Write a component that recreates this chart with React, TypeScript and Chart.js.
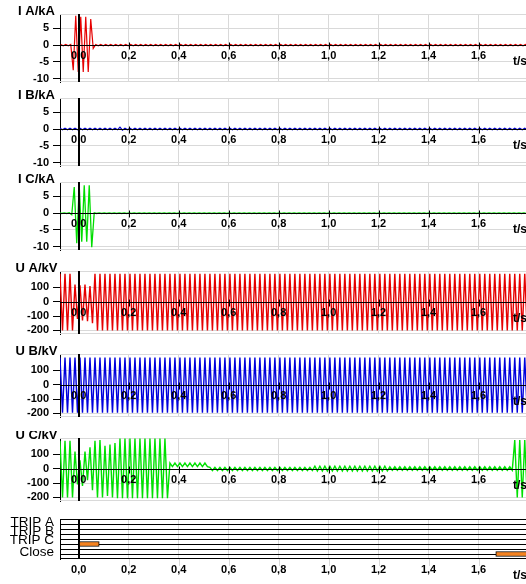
import React, { useEffect, useRef } from 'react';
import { Chart, registerables } from 'chart.js';

Chart.register(...registerables);

// One point per half-cycle peak of the 50 Hz recordings
const HALF_CYCLE = 0.01;

// Peak runs: [positive peak, negative peak, number of cycles]
type Run = [number, number, number];

const iaStart = -0.072;
const iaPeaks: Run[] = [
  [0.2, -0.2, 2],
  [0.2, -7.5, 1],
  [8.8, -8, 1],
  [8.5, -8, 1],
  [8.5, -8, 1],
  [7.8, -1, 1],
  [0.2, -0.2, 87],
];

const ibStart = -0.075;
const ibPeaks: Run[] = [
  [0.3, -0.2, 12],
  [0.6, -0.3, 1],
  [0.3, -0.2, 81],
];

const icStart = -0.078;
const icPeaks: Run[] = [
  [0.1, -0.1, 2],
  [0.1, -0.5, 1],
  [7.8, -9, 1],
  [8, -8.5, 1],
  [8.3, -8.5, 1],
  [8.3, -10.2, 1],
  [0.1, -0.1, 87],
];

const uaStart = -0.075;
const uaPeaks: Run[] = [
  [195, -200, 3],
  [120, -120, 1],
  [115, -130, 1],
  [120, -135, 1],
  [110, -150, 1],
  [195, -200, 87],
];

const ubStart = -0.075;
const ubPeaks: Run[] = [[190, -195, 94]];

const ucStart = -0.075;
const ucPeaks: Run[] = [
  [195, -200, 3],
  [120, -110, 1],
  [60, -120, 1],
  [120, -80, 1],
  [150, -150, 1],
  [195, -200, 1],
  [200, -200, 1],
  [160, -190, 1],
  [170, -200, 1],
  [180, -205, 1],
  [212, -205, 10],
  [40, 15, 8],
  [10, -12, 21],
  [18, -15, 15],
  [14, -10, 25],
  [200, -200, 3],
];

const T_MIN = -0.075;
const T_MAX = 1.79;
const timeTicks = [0, 0.2, 0.4, 0.6, 0.8, 1.0, 1.2, 1.4, 1.6];
const currentTicks = [-10, -5, 0, 5];
const voltageTicks = [-200, -100, 0, 100];
const currentRange = [-11, 9.3];
const voltageRange = [-225, 215];

const tripChannels = ['TRIP A', 'TRIP B', 'TRIP C', 'Close'];
const tripOn: (number | null)[] = [null, null, 0.0, 1.669];
const tripOff: (number | null)[] = [null, null, 0.082, 1.85];

const FONT = "'Liberation Sans', Arial, sans-serif";
const GRID = '#d9d9d9';
const W = 526;

function expandPeaks(start: number, runs: Run[]) {
  const pts: { x: number; y: number }[] = [];
  let i = 0;
  for (const [hi, lo, n] of runs) {
    for (let k = 0; k < n; k++) {
      pts.push({ x: start + i * HALF_CYCLE, y: hi });
      i++;
      pts.push({ x: start + i * HALF_CYCLE, y: lo });
      i++;
    }
  }
  return pts;
}

const fmtTime = (v: number) => v.toFixed(1).replace('.', ',');

interface WaveSpec {
  title: string;
  unitTicks: number[];
  range: number[];
  start: number;
  runs: Run[];
  color: string;
  width: number;
  areaTop: number;
  areaHeight: number;
  padTop: number;
}

const wavePanels: WaveSpec[] = [
  { title: 'I A/kA', unitTicks: currentTicks, range: currentRange, start: iaStart, runs: iaPeaks, color: '#e60000', width: 1.2, areaTop: 14, areaHeight: 68, padTop: 14 },
  { title: 'I B/kA', unitTicks: currentTicks, range: currentRange, start: ibStart, runs: ibPeaks, color: '#0000c8', width: 1.2, areaTop: 98, areaHeight: 68, padTop: 16 },
  { title: 'I C/kA', unitTicks: currentTicks, range: currentRange, start: icStart, runs: icPeaks, color: '#00dd00', width: 1.3, areaTop: 182, areaHeight: 68, padTop: 16 },
  { title: 'U A/kV', unitTicks: voltageTicks, range: voltageRange, start: uaStart, runs: uaPeaks, color: '#e60000', width: 1.4, areaTop: 271, areaHeight: 63, padTop: 16 },
  { title: 'U B/kV', unitTicks: voltageTicks, range: voltageRange, start: ubStart, runs: ubPeaks, color: '#0000dd', width: 1.4, areaTop: 354, areaHeight: 63, padTop: 16 },
  { title: 'U C/kV', unitTicks: voltageTicks, range: voltageRange, start: ucStart, runs: ucPeaks, color: '#00e000', width: 1.4, areaTop: 438, areaHeight: 63, padTop: 7 },
];

const noScalePadding = (s: any) => {
  s.paddingTop = 0;
  s.paddingBottom = 0;
  s.paddingLeft = 0;
  s.paddingRight = 0;
};

const baseTimeScale = () => ({
  type: 'linear' as const,
  min: T_MIN,
  max: T_MAX,
  afterBuildTicks: (s: any) => {
    s.ticks = timeTicks.map((v) => ({ value: v }));
  },
  afterFit: (s: any) => {
    s.height = 0;
    noScalePadding(s);
  },
  ticks: { display: false },
  border: { display: false },
  grid: {
    color: (c: any) => (c.tick && c.tick.value === 0 ? 'rgba(0,0,0,0)' : GRID),
    drawTicks: false,
    lineWidth: 1,
  },
});

function waveConfig(p: WaveSpec): any {
  const decor = {
    id: 'waveDecor',
    beforeDatasetsDraw(chart: any) {
      const { ctx, chartArea: a } = chart;
      ctx.save();
      ctx.strokeStyle = GRID;
      ctx.lineWidth = 1;
      ctx.beginPath();
      ctx.moveTo(a.left, Math.round(a.top) + 0.5);
      ctx.lineTo(a.right, Math.round(a.top) + 0.5);
      ctx.moveTo(a.left, Math.round(a.bottom) - 0.5);
      ctx.lineTo(a.right, Math.round(a.bottom) - 0.5);
      ctx.stroke();
      ctx.restore();
    },
    afterDatasetsDraw(chart: any) {
      const { ctx, chartArea: a, scales } = chart;
      const xs = scales.x;
      const ys = scales.y;
      const zy = Math.round(ys.getPixelForValue(0)) + 0.5;
      ctx.save();
      ctx.strokeStyle = '#000';
      ctx.lineWidth = 1;
      ctx.beginPath();
      ctx.moveTo(a.left, zy);
      ctx.lineTo(a.right, zy);
      for (const v of timeTicks) {
        const x = Math.round(xs.getPixelForValue(v)) + 0.5;
        ctx.moveTo(x, zy - 3);
        ctx.lineTo(x, zy + 4);
      }
      ctx.stroke();
      const x0 = Math.round(xs.getPixelForValue(0));
      ctx.lineWidth = 2;
      ctx.beginPath();
      ctx.moveTo(x0, a.top);
      ctx.lineTo(x0, a.bottom);
      ctx.stroke();

      ctx.fillStyle = '#000';
      ctx.font = `bold 11px ${FONT}`;
      ctx.textAlign = 'center';
      ctx.textBaseline = 'top';
      for (const v of timeTicks) {
        ctx.fillText(fmtTime(v), xs.getPixelForValue(v), zy + 5);
      }
      ctx.font = `bold 12px ${FONT}`;
      ctx.textAlign = 'left';
      ctx.textBaseline = 'alphabetic';
      ctx.fillText('t/s', 513, zy + 19);

      ctx.font = `bold 13px ${FONT}`;
      ctx.textAlign = 'center';
      ctx.fillText(p.title, 36.5, a.top + 0.5);
      ctx.restore();
    },
  };

  return {
    type: 'line',
    data: {
      datasets: [
        {
          data: expandPeaks(p.start, p.runs),
          borderColor: p.color,
          borderWidth: p.width,
          pointRadius: 0,
          tension: 0,
          fill: false,
        },
      ],
    },
    options: {
      animation: false,
      responsive: false,
      devicePixelRatio: 1,
      events: [],
      parsing: false,
      layout: { padding: { top: p.padTop, bottom: 4, left: 0, right: 0 } },
      plugins: { legend: { display: false }, tooltip: { enabled: false } },
      scales: {
        x: baseTimeScale(),
        y: {
          type: 'linear',
          min: p.range[0],
          max: p.range[1],
          afterBuildTicks: (s: any) => {
            s.ticks = p.unitTicks.map((v) => ({ value: v }));
          },
          afterFit: (s: any) => {
            s.width = 60;
            noScalePadding(s);
          },
          ticks: { color: '#000', font: { family: FONT, size: 11, weight: 'bold' }, padding: 4 },
          border: { display: true, color: '#000', width: 1 },
          grid: {
            color: (c: any) => (c.tick && c.tick.value === 0 ? 'rgba(0,0,0,0)' : GRID),
            tickColor: '#000',
            tickLength: 7,
            drawTicks: true,
          },
        },
      },
    },
    plugins: [decor],
  };
}

const TRIP_TOP = 519;
const TRIP_HEIGHT = 40;
const TRIP_PAD = 18;

function tripConfig(): any {
  const decor = {
    id: 'tripDecor',
    beforeDatasetsDraw(chart: any) {
      const { ctx, chartArea: a, scales } = chart;
      const xs = scales.x;
      const ys = scales.y;
      ctx.save();
      // grid tick extensions below the panel
      ctx.strokeStyle = GRID;
      ctx.lineWidth = 1;
      ctx.beginPath();
      for (const v of timeTicks) {
        if (v === 0) continue;
        const x = Math.round(xs.getPixelForValue(v)) + 0.5;
        ctx.moveTo(x, a.bottom);
        ctx.lineTo(x, a.bottom + 7);
      }
      ctx.stroke();
      // channel lines: band edges and channel centres
      ctx.strokeStyle = '#000';
      ctx.beginPath();
      const ysList: number[] = [a.top + 0.5, a.bottom - 0.5];
      tripChannels.forEach((_, i) => {
        ysList.push(Math.round(ys.getPixelForValue(i)) + 0.5);
        if (i < tripChannels.length - 1) {
          ysList.push(Math.round((ys.getPixelForValue(i) + ys.getPixelForValue(i + 1)) / 2) + 0.5);
        }
      });
      for (const y of ysList) {
        ctx.moveTo(a.left, y);
        ctx.lineTo(a.right, y);
      }
      ctx.stroke();
      const x0 = Math.round(xs.getPixelForValue(0));
      ctx.lineWidth = 2;
      ctx.beginPath();
      ctx.moveTo(x0, a.top);
      ctx.lineTo(x0, a.bottom);
      ctx.stroke();
      ctx.restore();
    },
    afterDatasetsDraw(chart: any) {
      const { ctx, chartArea: a, scales } = chart;
      const xs = scales.x;
      ctx.save();
      ctx.fillStyle = '#000';
      ctx.font = `13.5px ${FONT}`;
      ctx.textAlign = 'right';
      ctx.textBaseline = 'alphabetic';
      const labelBase = [526, 535, 544, 556];
      tripChannels.forEach((name, i) => {
        ctx.fillText(name, 54, labelBase[i] - TRIP_TOP + a.top);
      });
      ctx.font = `bold 11px ${FONT}`;
      ctx.textAlign = 'center';
      ctx.textBaseline = 'top';
      for (const v of timeTicks) {
        ctx.fillText(fmtTime(v), xs.getPixelForValue(v), a.bottom + 5);
      }
      ctx.font = `bold 12px ${FONT}`;
      ctx.textAlign = 'left';
      ctx.textBaseline = 'alphabetic';
      ctx.fillText('t/s', 513, a.bottom + 20);
      ctx.restore();
    },
  };

  return {
    type: 'bar',
    data: {
      labels: tripChannels,
      datasets: [
        {
          data: tripChannels.map((_, i) =>
            tripOn[i] === null ? null : [tripOn[i], tripOff[i]]
          ),
          backgroundColor: '#f5821f',
          borderColor: '#000',
          borderWidth: 1,
          borderSkipped: false,
          barThickness: 5,
        },
      ],
    },
    options: {
      indexAxis: 'y',
      animation: false,
      responsive: false,
      devicePixelRatio: 1,
      events: [],
      layout: { padding: { top: TRIP_PAD, bottom: 584 - TRIP_TOP - TRIP_HEIGHT, left: 0, right: 0 } },
      plugins: { legend: { display: false }, tooltip: { enabled: false } },
      scales: {
        x: baseTimeScale(),
        y: {
          type: 'category',
          offset: true,
          ticks: { display: false },
          grid: { display: false },
          border: { display: true, color: '#000', width: 1 },
          afterFit: (s: any) => {
            s.width = 60;
            noScalePadding(s);
          },
        },
      },
    },
    plugins: [decor],
  };
}

function Panel({ top, height, make }: { top: number; height: number; make: () => any }) {
  const ref = useRef<HTMLCanvasElement>(null);
  useEffect(() => {
    const chart = new Chart(ref.current as HTMLCanvasElement, make());
    return () => chart.destroy();
  }, []);
  return (
    <canvas
      ref={ref}
      width={W}
      height={height}
      style={{ position: 'absolute', left: 0, top, width: W, height }}
    />
  );
}

export default function App() {
  return (
    <div style={{ position: 'fixed', left: 0, top: 0, width: W, height: 584, background: '#fff', overflow: 'hidden' }}>
      {wavePanels.map((p) => (
        <Panel
          key={p.title}
          top={p.areaTop - p.padTop}
          height={p.padTop + p.areaHeight + 4}
          make={() => waveConfig(p)}
        />
      ))}
      <Panel top={TRIP_TOP - TRIP_PAD} height={584 - TRIP_TOP + TRIP_PAD} make={tripConfig} />
    </div>
  );
}
